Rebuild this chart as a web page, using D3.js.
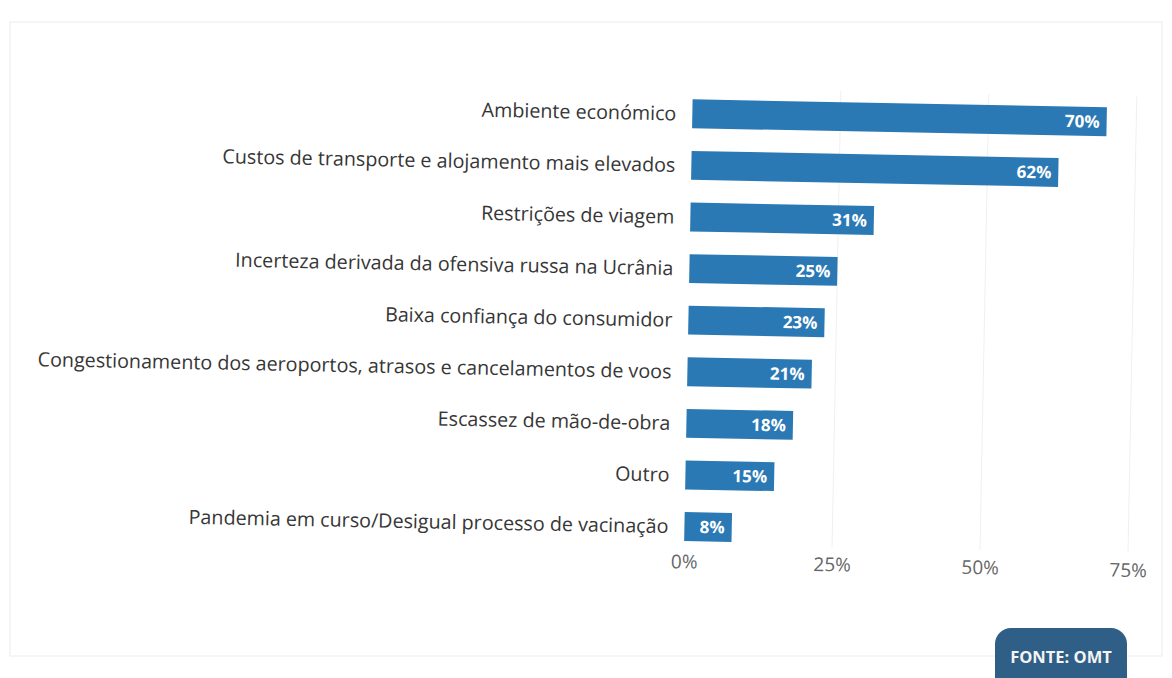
<!DOCTYPE html>
<html>
<head>
<meta charset="utf-8">
<script src="https://cdn.jsdelivr.net/npm/d3@7"></script>
<style>
  body { margin: 0; background: #fff; }
  svg { display: block; font-family: "Open Sans", sans-serif; }
</style>
</head>
<body>
<div id="chart"></div>
<script>
(function () {

    // data
    var categories = [
        "Ambiente económico",
        "Custos de transporte e alojamento mais elevados",
        "Restrições de viagem",
        "Incerteza derivada da ofensiva russa na Ucrânia",
        "Baixa confiança do consumidor",
        "Congestionamento dos aeroportos, atrasos e cancelamentos de voos",
        "Escassez de mão-de-obra",
        "Outro",
        "Pandemia em curso/Desigual processo de vacinação"
    ];
    var values = [70, 62, 31, 25, 23, 21, 18, 15, 8];
    var ticks = [0, 25, 50, 75];
    var source = "FONTE: OMT";

    var W = 1172, H = 678;
    var margin = { top: 86, left: 688 };

    var svg = d3.select("#chart")
        .append("svg")
        .attr("width", W)
        .attr("height", H);

    // faint frame of the scanned page
    svg.append("rect")
        .attr("x", 10).attr("y", 22)
        .attr("width", W - 20).attr("height", 634)
        .attr("fill", "none")
        .attr("stroke", "#ececec");

    // the scan is turned a little clockwise
    var g = svg.append("g")
        .attr("transform", "rotate(1.1," + (W / 2) + "," + (H / 2) + ")");

    var x = d3.scaleLinear()
        .domain([0, 75])
        .range([margin.left, margin.left + 444]);

    var y = d3.scaleBand()
        .domain(categories)
        .range([margin.top, margin.top + 9 * 51.6])
        .paddingInner(0.44)
        .paddingOuter(0.22);

    // grid lines
    g.append("g")
        .selectAll("line")
        .data(ticks.slice(1))
        .enter()
        .append("line")
        .attr("x1", function (d) { return x(d); })
        .attr("x2", function (d) { return x(d); })
        .attr("y1", margin.top)
        .attr("y2", y.range()[1] - 8)
        .attr("stroke", "#f0f0f0")
        .attr("stroke-width", 1);

    // x axis
    var xAxis = g.append("g")
        .attr("transform", "translate(0," + (y.range()[1] - 4) + ")")
        .call(d3.axisBottom(x).tickValues(ticks).tickFormat(function (d) { return d + "%"; }).tickSize(0));
    xAxis.select(".domain").remove();
    xAxis.selectAll("text")
        .attr("font-family", "Open Sans, sans-serif")
        .attr("font-size", 19)
        .attr("fill", "#666")
        .attr("dy", "0.9em");

    // category labels
    g.append("g")
        .selectAll("text")
        .data(categories)
        .enter()
        .append("text")
        .attr("x", margin.left - 16)
        .attr("y", function (d) { return y(d) + y.bandwidth() / 2; })
        .attr("dy", "0.35em")
        .attr("text-anchor", "end")
        .attr("font-size", 19.7)
        .attr("fill", "#363636")
        .text(function (d) { return d; });

    // bars
    g.append("g")
        .selectAll("rect")
        .data(values)
        .enter()
        .append("rect")
        .attr("x", x(0))
        .attr("y", function (d, i) { return y(categories[i]); })
        .attr("width", function (d) { return x(d) - x(0); })
        .attr("height", y.bandwidth())
        .attr("fill", "#2a79b5");

    // value labels
    g.append("g")
        .selectAll("text")
        .data(values)
        .enter()
        .append("text")
        .attr("x", function (d) { return x(d) - 7; })
        .attr("y", function (d, i) { return y(categories[i]) + y.bandwidth() / 2; })
        .attr("dy", "0.36em")
        .attr("text-anchor", "end")
        .attr("font-size", 17)
        .attr("font-weight", "bold")
        .attr("fill", "#fff")
        .text(function (d) { return d + "%"; });

    // source badge
    var badge = svg.append("g").attr("transform", "translate(995,628)");
    badge.append("rect")
        .attr("width", 132).attr("height", 70)
        .attr("rx", 16).attr("ry", 16)
        .attr("fill", "#2f5e86");
    badge.append("text")
        .attr("x", 66).attr("y", 35)
        .attr("text-anchor", "middle")
        .attr("font-size", 16.5)
        .attr("font-weight", "bold")
        .attr("fill", "#f4f4f4")
        .text(source);

})();
</script>
</body>
</html>
